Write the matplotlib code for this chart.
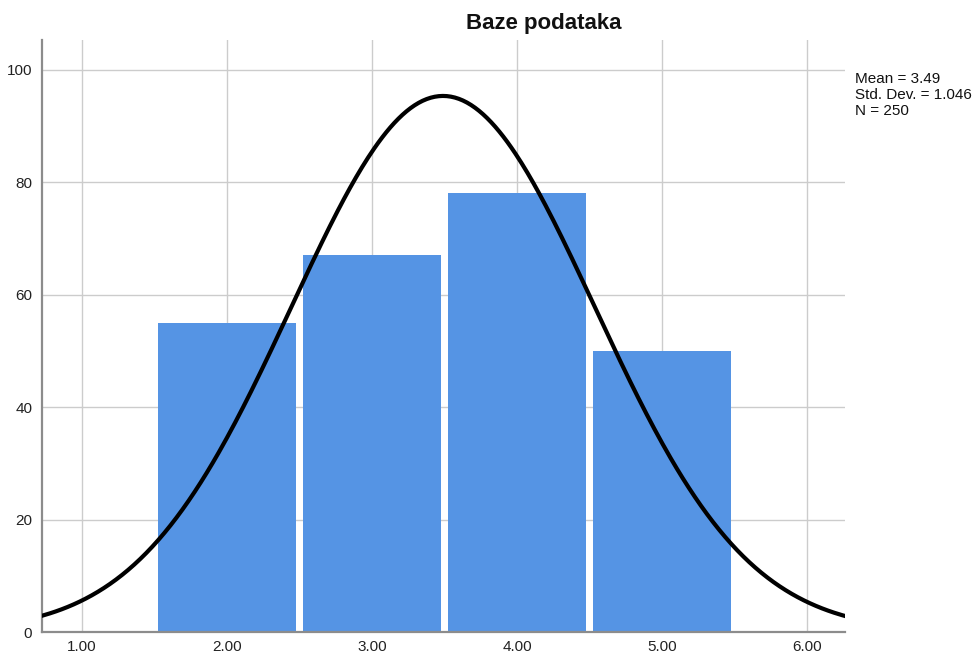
import numpy as np
import matplotlib
matplotlib.use("Agg")
import matplotlib.pyplot as plt

plt.rcParams['font.family'] = ['Liberation Sans', 'DejaVu Sans']

# Histogram bins (value categories) and their counts
bin_centers = [2.0, 3.0, 4.0, 5.0]
counts = [55, 67, 78, 50]
x_ticks = [1.0, 2.0, 3.0, 4.0, 5.0, 6.0]
y_ticks = [0, 20, 40, 60, 80, 100]

mean = 3.49
std_dev = 1.046
n_total = 250
bin_width = 1.0

fig = plt.figure(figsize=(9.78, 6.59), dpi=100)
ax = fig.add_axes([42/978, 1 - 632/659, (845 - 42)/978, (632 - 40)/659])

ax.bar(bin_centers, counts, width=0.95, color='#5594E4', edgecolor='none', zorder=2)

# Normal curve scaled to counts
xs = np.linspace(0.72, 6.27, 400)
ys = n_total * bin_width / (std_dev * np.sqrt(2 * np.pi)) * np.exp(-0.5 * ((xs - mean) / std_dev) ** 2)
ax.plot(xs, ys, color='black', linewidth=3.0, zorder=3, solid_capstyle='butt')

ax.set_xlim(0.724, 6.262)
ax.set_ylim(0, 105.3)
ax.set_xticks(x_ticks)
ax.set_xticklabels([f"{v:.2f}" for v in x_ticks])
ax.set_yticks(y_ticks)
ax.set_yticklabels([str(v) for v in y_ticks])

ax.grid(True, color='#CCCCCC', linewidth=1.0, zorder=0)
ax.set_axisbelow(True)
for side in ['top', 'right']:
    ax.spines[side].set_visible(False)
ax.spines['left'].set_color('#8C8C8C')
ax.spines['left'].set_linewidth(1.6)
ax.spines['bottom'].set_color('#8C8C8C')
ax.spines['bottom'].set_linewidth(1.6)
ax.tick_params(axis='both', length=0, labelsize=11, colors='#222222')
ax.tick_params(axis='x', pad=6)
ax.tick_params(axis='y', pad=7)

fig.text(544/978, 1 - 23/659, 'Baze podataka', ha='center', va='center',
         fontsize=16, fontweight='bold', color='#111111')

fig.text(855/978, 1 - 72/659,
         f"Mean = {mean:.2f}\nStd. Dev. = {std_dev:.3f}\nN = {n_total}",
         ha='left', va='top', fontsize=11, color='#111111', linespacing=1.2)

fig.savefig('out.png', dpi=100)
